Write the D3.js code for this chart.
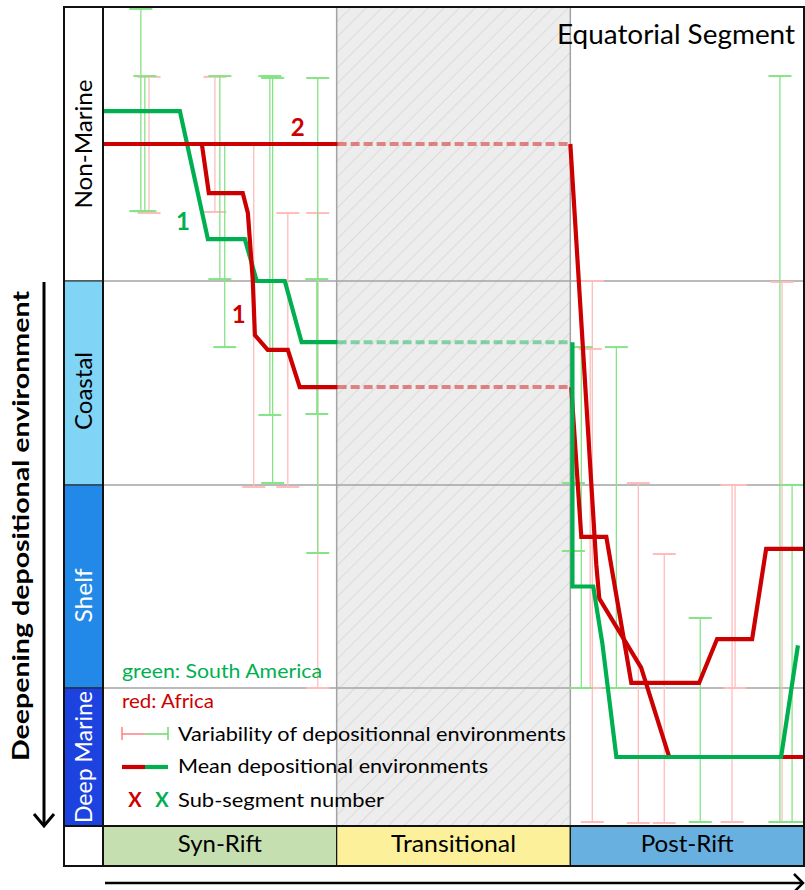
<!DOCTYPE html>
<html><head><meta charset="utf-8">
<script src="https://cdn.jsdelivr.net/npm/d3@7"></script>
<style>body{margin:0;background:#fff}svg{display:block}text{font-family:Lato,"Open Sans",sans-serif}</style>
</head><body><svg id="c" width="805" height="890"></svg>
<script>
// ---- data ----
const environments = ["Non-Marine", "Coastal", "Shelf", "Deep Marine"];
const envLevels = [0, 1, 2, 3, 4];
const phases = ["Syn-Rift", "Transitional", "Post-Rift"];
const phaseTimes = [0, 10, 20, 30];

// Mean depositional environments: [relative time, environment level]
const greenMeanSyn = [[0,0.38],[3.29,0.38],[4.49,0.847],[6.07,0.847],[6.58,1.0],[7.78,1.0],[8.5,1.3],[10.04,1.3]];
const greenMeanPost = [[20.09,1.3],[20.09,2.5],[20.98,2.5],[21.37,2.78],[21.97,3.5],[29.02,3.5],[29.74,2.79]];
const redMean1Syn = [[0,0.5],[4.23,0.5],[4.53,0.679],[5.98,0.679],[6.2,0.752],[6.41,0.996],[6.5,1.265],[7.05,1.338],[7.91,1.338],[8.42,1.52],[10.04,1.52]];
const redMean1Post = [[20.04,1.52],[20.47,2.256],[21.54,2.256],[22.61,2.975],[25.51,2.975],[26.28,2.759],[27.78,2.759],[28.38,2.315],[30,2.315]];
const redMean2Syn = [[0,0.5],[10.04,0.5]];
const redMean2Post = [[20,0.5],[21.11,2.39],[21.24,2.56],[23.03,2.9],[24.23,3.5],[30,3.5]];
// transitional (no data) connectors
const greenGap = [[10.04,1.3],[20,1.3]];
const redGap1 = [[10.04,1.52],[20,1.52]];
const redGap2 = [[10.04,0.5],[20,0.5]];

// Variability of depositional environments: [time, shallowest, deepest]
const greenRanges = [
  [1.62,0.007,0.745],[1.79,0.252,0.745],[5.0,0.252,0.993],[5.21,0.5,1.324],
  [7.14,0.252,1.657],[7.26,0.259,1.99],[9.19,0.259,2.335],[9.15,0.993,1.652],
  [20.13,1.99,2.325],[20.47,1.324,3.0],[21.97,1.324,3.0],[25.56,2.655,3.971],
  [28.97,0.252,3.971],[29.49,2.0,3.971]
];
const redRanges = [
  [1.97,0.255,0.752],[4.79,0.255,0.748],[6.45,0.5,2.01],[7.91,0.752,2.01],[9.19,0.752,3.0],
  [20.85,1.333,3.0],[20.94,1.0,3.971],[22.91,1.99,3.978],[24.02,2.34,3.978],
  [26.92,2.0,3.971],[27.05,2.0,3.0],[29.06,1.005,3.971]
];
// sub-segment numbers: [label, series, time, level]
const subSegments = [["1","green",3.42,0.814],["1","red",5.81,1.206],["2","red",8.33,0.471]];

// ---- drawing ----
const RED = "#cc0000", GREEN = "#00b050";
const svg = d3.select("#c");
const x = d3.scaleLinear().domain([0, 30]).range([103, 804]);
const y = d3.scaleLinear().domain(envLevels).range([7, 281, 485, 688, 826]);
const line = d3.line().x(d => x(d[0])).y(d => y(d[1]));

// hatch pattern
const defs = svg.append("defs");
const pat = defs.append("pattern").attr("id","hatch").attr("patternUnits","userSpaceOnUse")
  .attr("width",11).attr("height",11).attr("patternTransform","rotate(45)");
pat.append("rect").attr("width",11).attr("height",11).attr("fill","#ededed");
pat.append("line").attr("x1",0).attr("y1",0).attr("x2",0).attr("y2",11).attr("stroke","#c9c9c9").attr("stroke-width",1);

// transitional shaded region
svg.append("rect").attr("x", x(phaseTimes[1])).attr("y", y(0))
  .attr("width", x(phaseTimes[2]) - x(phaseTimes[1])).attr("height", y(4) - y(0))
  .attr("fill", "url(#hatch)");

// grid lines
[1,2,3].forEach(l => svg.append("line").attr("x1", x(0)).attr("x2", x(30)).attr("y1", y(l)).attr("y2", y(l))
  .attr("stroke", "#a3a3a3").attr("stroke-width", 1.5));
[1,2].forEach(i => svg.append("line").attr("x1", x(phaseTimes[i])).attr("x2", x(phaseTimes[i])).attr("y1", y(0)).attr("y2", y(4))
  .attr("stroke", "#a3a3a3").attr("stroke-width", 1.5));

// environment column
const envColors = ["#ffffff", "#80d4f6", "#2389e9", "#1c43e0"];
const envText = ["#000", "#000", "#fff", "#fff"];
const envTextLen = [129, 78, 54, 132];
environments.forEach((e, i) => {
  svg.append("rect").attr("x", 64).attr("y", y(envLevels[i])).attr("width", 39)
    .attr("height", y(envLevels[i+1]) - y(envLevels[i])).attr("fill", envColors[i])
    .attr("stroke", "#222").attr("stroke-width", 1);
  const cy = (y(envLevels[i]) + y(envLevels[i+1])) / 2 + (i === 1 ? 8 : i === 2 ? 9 : 0);
  svg.append("text").attr("transform", `translate(92,${cy}) rotate(-90)`)
    .attr("text-anchor", "middle").attr("font-size", 23).attr("fill", envText[i])
    .attr("textLength", envTextLen[i]).attr("lengthAdjust", "spacingAndGlyphs").text(e);
});

// error bars
function ranges(data, color) {
  const g = svg.append("g").attr("stroke", color);
  data.forEach(d => {
    const cx = x(d[0]);
    g.append("line").attr("x1", cx).attr("x2", cx).attr("y1", y(d[1])).attr("y2", y(d[2])).attr("stroke-width", 1.3);
    [d[1], d[2]].forEach(v => g.append("line").attr("x1", cx - 11.5).attr("x2", cx + 11.5)
      .attr("y1", y(v)).attr("y2", y(v)).attr("stroke-width", 2));
  });
}
ranges(redRanges, "#ffbcbc");
ranges(greenRanges, "#86e386");

// connectors across transitional
[[redGap2, RED], [redGap1, RED], [greenGap, GREEN]].forEach(([d, c]) =>
  svg.append("path").attr("d", line(d)).attr("fill", "none").attr("stroke", c)
    .attr("stroke-width", 4).attr("stroke-opacity", 0.45).attr("stroke-dasharray", "9,4"));

// mean lines
function mean(d, c) {
  svg.append("path").attr("d", line(d)).attr("fill", "none").attr("stroke", c)
    .attr("stroke-width", 4.2).attr("stroke-linejoin", "miter");
}
mean(greenMeanSyn, GREEN);
mean(redMean2Syn, RED);
mean(redMean1Syn, RED);
mean(redMean2Post, RED);
mean(redMean1Post, RED);
mean(greenMeanPost, GREEN);

// sub-segment labels
subSegments.forEach(s => svg.append("text").attr("x", x(s[2])).attr("y", y(s[3]))
  .attr("text-anchor", "middle").attr("font-size", 24).attr("font-weight", "bold")
  .attr("fill", s[1] === "red" ? RED : GREEN).text(s[0]));

// phase bar
const phaseColors = ["#c5dfb0", "#fdf09b", "#68b0e0"];
const phaseTextLen = [84, 125, 93];
svg.append("rect").attr("x", 64).attr("y", 826).attr("width", 39).attr("height", 40)
  .attr("fill", "#fff").attr("stroke", "#111").attr("stroke-width", 1.5);
phases.forEach((p, i) => {
  svg.append("rect").attr("x", x(phaseTimes[i])).attr("y", 826)
    .attr("width", x(phaseTimes[i+1]) - x(phaseTimes[i])).attr("height", 40)
    .attr("fill", phaseColors[i]).attr("stroke", "#111").attr("stroke-width", 1.2);
  svg.append("text").attr("x", (x(phaseTimes[i]) + x(phaseTimes[i+1])) / 2).attr("y", 852)
    .attr("text-anchor", "middle").attr("font-size", 23).attr("fill", "#000")
    .attr("textLength", phaseTextLen[i]).attr("lengthAdjust", "spacingAndGlyphs").text(p);
});

// frame
svg.append("rect").attr("x", 64).attr("y", 7).attr("width", 740).attr("height", 859)
  .attr("fill", "none").attr("stroke", "#111").attr("stroke-width", 2);
svg.append("line").attr("x1", 103).attr("x2", 103).attr("y1", 7).attr("y2", 866).attr("stroke", "#111").attr("stroke-width", 2);
svg.append("line").attr("x1", 64).attr("x2", 804).attr("y1", 826).attr("y2", 826).attr("stroke", "#111").attr("stroke-width", 2);

// title
svg.append("text").attr("x", 795).attr("y", 44).attr("text-anchor", "end")
  .attr("font-size", 26).attr("textLength", 238).attr("lengthAdjust", "spacingAndGlyphs").text("Equatorial Segment");

// legend
const lg = svg.append("g");
lg.append("text").attr("x", 122).attr("y", 678).attr("font-size", 19).attr("fill", GREEN)
  .attr("textLength", 200).attr("lengthAdjust", "spacingAndGlyphs").text("green: South America");
lg.append("text").attr("x", 122).attr("y", 708).attr("font-size", 19).attr("fill", RED)
  .attr("textLength", 92).attr("lengthAdjust", "spacingAndGlyphs").text("red: Africa");
lg.append("line").attr("x1", 122).attr("x2", 145).attr("y1", 734).attr("y2", 734).attr("stroke", "#ff7f7f").attr("stroke-width", 1.5);
lg.append("line").attr("x1", 145).attr("x2", 168).attr("y1", 734).attr("y2", 734).attr("stroke", "#6ed86e").attr("stroke-width", 1.5);
lg.append("line").attr("x1", 122).attr("x2", 122).attr("y1", 727).attr("y2", 740).attr("stroke", "#ff7f7f").attr("stroke-width", 1.5);
lg.append("line").attr("x1", 168).attr("x2", 168).attr("y1", 727).attr("y2", 740).attr("stroke", "#6ed86e").attr("stroke-width", 1.5);
lg.append("text").attr("x", 178).attr("y", 741).attr("font-size", 20)
  .attr("textLength", 388).attr("lengthAdjust", "spacingAndGlyphs").text("Variability of depositionnal environments");
lg.append("line").attr("x1", 122).attr("x2", 145).attr("y1", 767).attr("y2", 767).attr("stroke", RED).attr("stroke-width", 4.2);
lg.append("line").attr("x1", 145).attr("x2", 168).attr("y1", 767).attr("y2", 767).attr("stroke", GREEN).attr("stroke-width", 4.2);
lg.append("text").attr("x", 178).attr("y", 773).attr("font-size", 20)
  .attr("textLength", 310).attr("lengthAdjust", "spacingAndGlyphs").text("Mean depositional environments");
lg.append("text").attr("x", 135).attr("y", 807).attr("font-size", 20).attr("font-weight", "bold").attr("text-anchor", "middle").attr("fill", RED).text("X");
lg.append("text").attr("x", 162).attr("y", 807).attr("font-size", 20).attr("font-weight", "bold").attr("text-anchor", "middle").attr("fill", GREEN).text("X");
lg.append("text").attr("x", 178).attr("y", 807).attr("font-size", 20)
  .attr("textLength", 206).attr("lengthAdjust", "spacingAndGlyphs").text("Sub-segment number");

// axis arrows and labels
svg.append("text").attr("transform", "translate(29,526) rotate(-90)").attr("text-anchor", "middle")
  .attr("font-size", 23).attr("font-weight", "bold").attr("textLength", 470).attr("lengthAdjust", "spacingAndGlyphs")
  .text("Deepening depositional environment");
svg.append("line").attr("x1", 44).attr("x2", 44).attr("y1", 282).attr("y2", 825).attr("stroke", "#000").attr("stroke-width", 3);
svg.append("path").attr("d", "M34,814 L44,826 L54,814").attr("fill", "none").attr("stroke", "#000").attr("stroke-width", 3);
svg.append("line").attr("x1", 105).attr("x2", 803).attr("y1", 883).attr("y2", 883).attr("stroke", "#000").attr("stroke-width", 2.5);
svg.append("path").attr("d", "M794,874 L803,883 L794,892").attr("fill", "none").attr("stroke", "#000").attr("stroke-width", 2.5);
</script></body></html>
